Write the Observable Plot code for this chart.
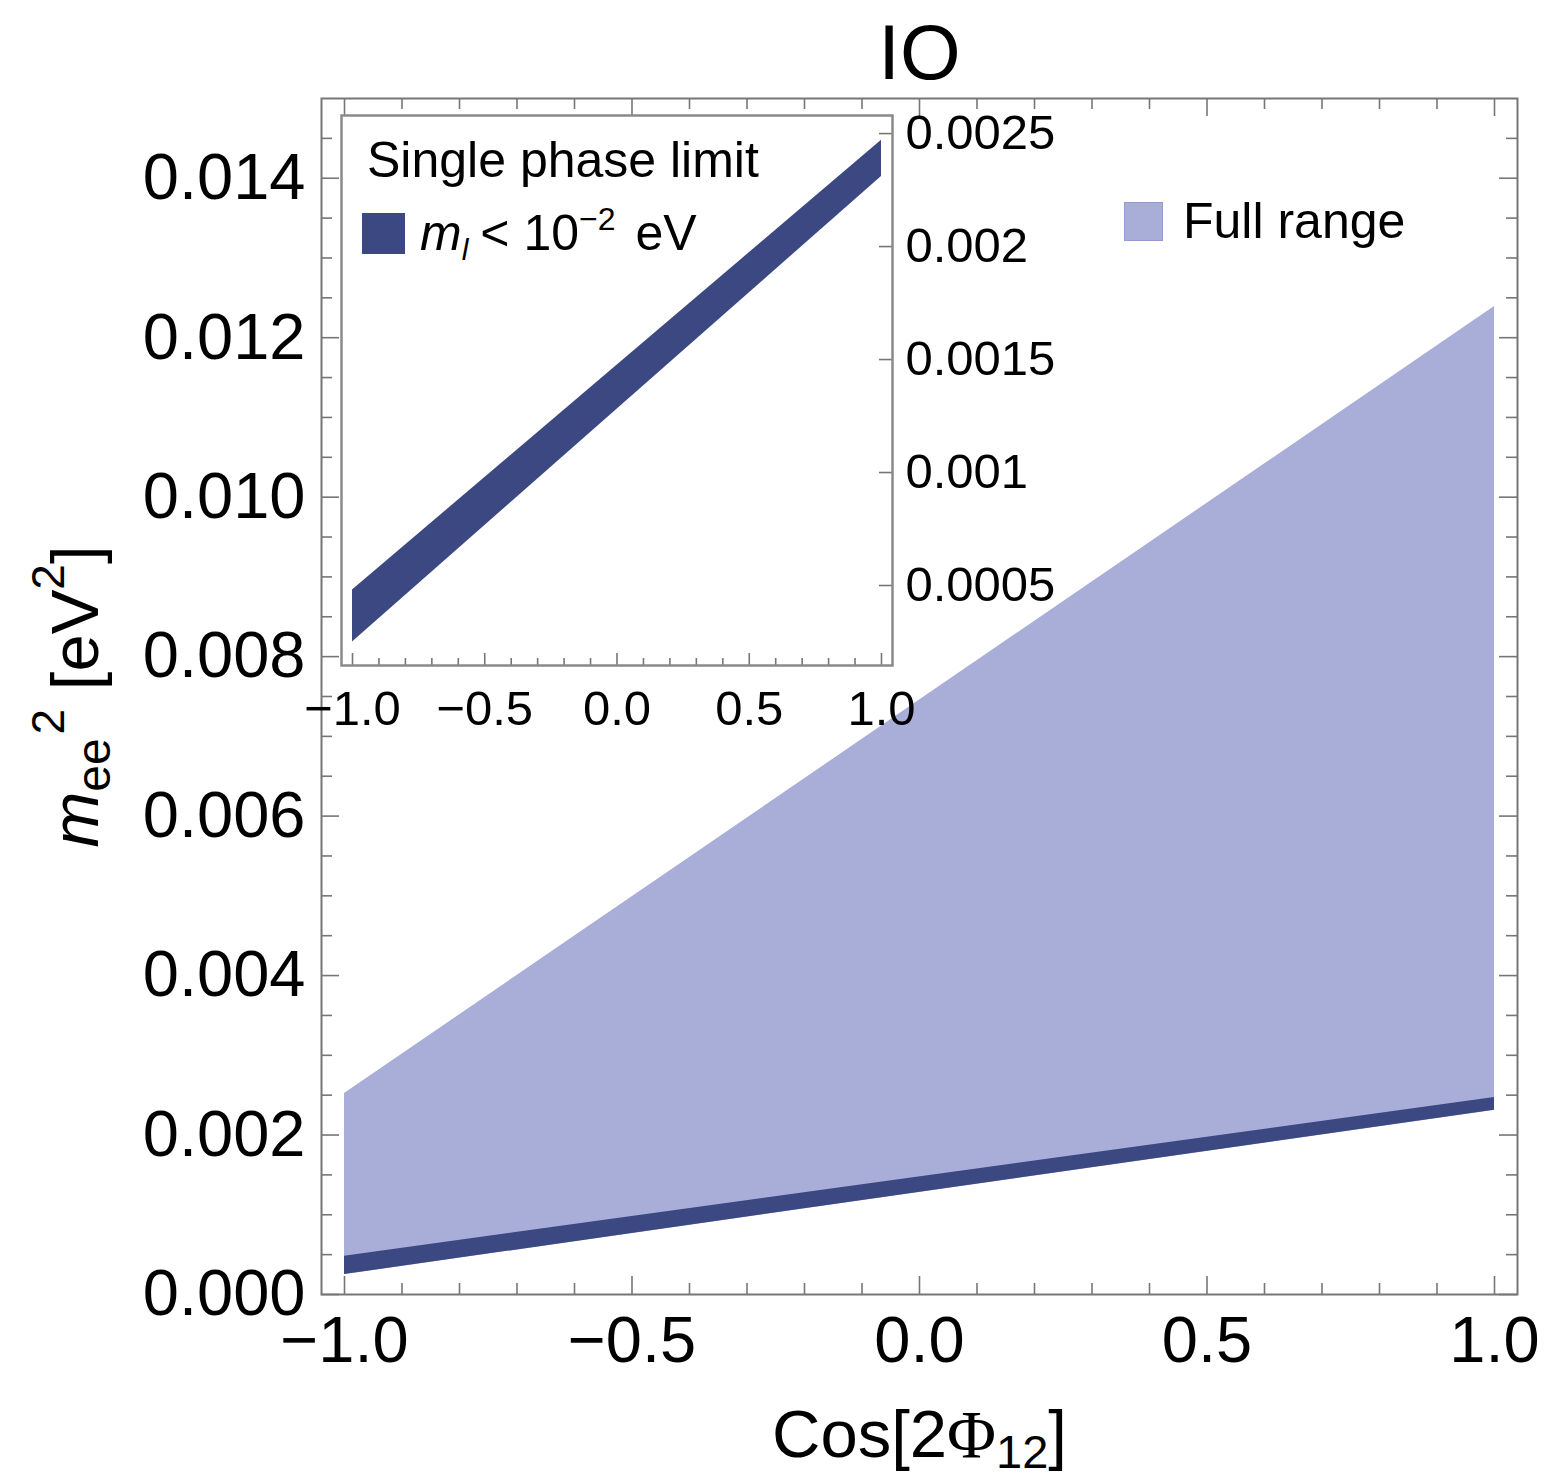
<!DOCTYPE html>
<html>
<head>
<meta charset="utf-8">
<script src="https://cdn.jsdelivr.net/npm/d3@7"></script>
<script src="https://cdn.jsdelivr.net/npm/@observablehq/plot@0.6"></script>
<style>
  body { margin: 0; background: #fff; font-family: "Liberation Sans", Arial, sans-serif; }
  #wrap { position: relative; width: 1547px; height: 1480px; }
  #wrap svg { position: absolute; left: 0; top: 0; }
  .leg { position: absolute; display: flex; align-items: center; white-space: nowrap; color: #000; font-family: "Liberation Sans", Arial, sans-serif; }
  .sw { display: inline-block; box-sizing: border-box; }
</style>
</head>
<body>
<div id="wrap"></div>
<script>
// ---- data ----
const cosPhi = [-1, 1];
const fullRangeLow = [0.00025, 0.00231];
const fullRangeHigh = [0.00252, 0.01239];
const singleLow = [0.00025, 0.00231];
const singleHigh = [0.00048, 0.00247];

const mainXTicks = [-1, -0.5, 0, 0.5, 1];
const mainYTicks = [0, 0.002, 0.004, 0.006, 0.008, 0.010, 0.012, 0.014];
const insetXTicks = [-1, -0.5, 0, 0.5, 1];
const insetYTicks = [0.0005, 0.001, 0.0015, 0.002, 0.0025];

const titleText = "IO";
const xLabelText = "Cos[2Φ12]";
const yLabelText = "mee2 [eV2]";
const fullLegend = "Full range";
const insetTitle = "Single phase limit";

const lightColor = "#a9aed9";
const darkColor = "#3c4882";
const frameColor = "#767676";
const FONT = "'Liberation Sans', Arial, sans-serif";

// minor ticks
const xMinor = d3.range(-10, 11).map(i => i / 10).filter(v => Math.abs(v * 2 - Math.round(v * 2)) > 1e-9);
const yMinor = d3.range(0, 30).map(i => i * 0.0005).filter(v => Math.abs(v / 0.002 - Math.round(v / 0.002)) > 1e-9);

const fullData = cosPhi.map((x, i) => ({x, lo: fullRangeLow[i], hi: fullRangeHigh[i]}));
const singleData = cosPhi.map((x, i) => ({x, lo: singleLow[i], hi: singleHigh[i]}));

// ---- main plot ----
const W = 1547, H = 1480;
const mL = 321, mR = 30, mT = 98, mB = 186;
const fW = W - mL - mR, fH = H - mT - mB;
const MAJ = 18, MIN = 11;

const main = Plot.plot({
  width: W, height: H,
  marginLeft: mL, marginRight: mR, marginTop: mT, marginBottom: mB,
  x: {domain: [-1.04, 1.04]},
  y: {domain: [0, 0.015]},
  style: {background: "transparent", fontFamily: FONT, fontSize: "65px", color: "#000", overflow: "visible"},
  marks: [
    Plot.areaY(fullData, {x: "x", y1: "lo", y2: "hi", fill: lightColor}),
    Plot.areaY(singleData, {x: "x", y1: "lo", y2: "hi", fill: darkColor}),
    // bottom ticks
    Plot.ruleX(mainXTicks, {x: d => d, insetTop: fH - MAJ, stroke: frameColor, strokeWidth: 1.6}),
    Plot.ruleX(xMinor, {x: d => d, insetTop: fH - MIN, stroke: frameColor, strokeWidth: 1.6}),
    // top ticks
    Plot.ruleX(mainXTicks, {x: d => d, insetBottom: fH - MAJ, stroke: frameColor, strokeWidth: 1.6}),
    Plot.ruleX(xMinor, {x: d => d, insetBottom: fH - MIN, stroke: frameColor, strokeWidth: 1.6}),
    // left ticks
    Plot.ruleY(mainYTicks, {y: d => d, insetRight: fW - MAJ, stroke: frameColor, strokeWidth: 1.6}),
    Plot.ruleY(yMinor, {y: d => d, insetRight: fW - MIN, stroke: frameColor, strokeWidth: 1.6}),
    // right ticks
    Plot.ruleY(mainYTicks, {y: d => d, insetLeft: fW - MAJ, stroke: frameColor, strokeWidth: 1.6}),
    Plot.ruleY(yMinor, {y: d => d, insetLeft: fW - MIN, stroke: frameColor, strokeWidth: 1.6}),
    Plot.frame({stroke: frameColor, strokeWidth: 2}),
    Plot.axisX(mainXTicks, {anchor: "bottom", tickSize: 0, tickPadding: 21, tickFormat: d3.format(".1f"), label: null, fontSize: 65}),
    Plot.axisY(mainYTicks, {anchor: "left", tickSize: 0, tickPadding: 16, tickFormat: d3.format(".3f"), label: null, fontSize: 65}),
    Plot.text([titleText], {frameAnchor: "top", dy: -20, lineAnchor: "bottom", fontSize: 78, text: d => d}),
    Plot.text([xLabelText], {frameAnchor: "bottom", dy: 162, lineAnchor: "bottom", textAnchor: "middle", fontSize: 67, text: d => d}),
    Plot.text([yLabelText], {frameAnchor: "left", dx: -224, rotate: -90, lineAnchor: "bottom", textAnchor: "middle", fontSize: 67, text: d => d})
  ]
});

function rich(svg, plain, html) {
  d3.select(svg).selectAll("text").filter(function() { return this.textContent === plain; }).html(html);
}
rich(main, xLabelText,
  `Cos[2<tspan font-family="'Liberation Serif', serif">Φ</tspan><tspan font-size="47" dy="11">12</tspan><tspan dy="-11">]</tspan>`);
rich(main, yLabelText,
  `<tspan font-style="italic">m</tspan><tspan font-size="48" dy="12">ee</tspan><tspan font-size="46" dx="4" dy="-46">2</tspan><tspan dy="34"> [eV</tspan><tspan font-size="46" dy="-34">2</tspan><tspan dy="34">]</tspan>`);

// ---- inset plot ----
const iL = 341, iR = W - 892, iT = 115, iB = H - 665;
const ifW = W - iL - iR, ifH = H - iT - iB;
const IMAJ = 12, IMIN = 7, IY = 13;

const inset = Plot.plot({
  width: W, height: H,
  marginLeft: iL, marginRight: iR, marginTop: iT, marginBottom: iB,
  x: {domain: [-1.0416, 1.0416]},
  y: {domain: [0.000146, 0.00258]},
  style: {background: "transparent", fontFamily: FONT, fontSize: "49px", color: "#000", overflow: "visible"},
  marks: [
    Plot.frame({fill: "white", stroke: null}),
    Plot.areaY(singleData, {x: "x", y1: "lo", y2: "hi", fill: darkColor}),
    Plot.ruleX(insetXTicks, {x: d => d, insetTop: ifH - IMAJ, stroke: frameColor, strokeWidth: 1.6}),
    Plot.ruleX(xMinor, {x: d => d, insetTop: ifH - IMIN, stroke: frameColor, strokeWidth: 1.6}),
    Plot.ruleY(insetYTicks, {y: d => d, insetLeft: ifW - IY, stroke: frameColor, strokeWidth: 1.6}),
    Plot.frame({stroke: "#8a8a8a", strokeWidth: 2.5}),
    Plot.axisX(insetXTicks, {anchor: "bottom", tickSize: 0, tickPadding: 25, tickFormat: d3.format(".1f"), label: null, fontSize: 49}),
    Plot.axisY(insetYTicks, {anchor: "right", tickSize: 0, tickPadding: 13, tickFormat: d => String(d), label: null, fontSize: 49})
  ]
});

const wrap = document.getElementById("wrap");
wrap.appendChild(main);
wrap.appendChild(inset);

// ---- legends ----
const leg1 = document.createElement("div");
leg1.className = "leg";
leg1.style.left = "1124px"; leg1.style.top = "196px"; leg1.style.height = "50px"; leg1.style.fontSize = "50px";
leg1.innerHTML = `<span class="sw" style="width:39px;height:39px;background:${lightColor};border:1.5px solid #959bcf;margin-right:20px"></span><span>${fullLegend}</span>`;
wrap.appendChild(leg1);

const leg2 = document.createElement("div");
leg2.className = "leg";
leg2.style.left = "367px"; leg2.style.top = "132px"; leg2.style.height = "56px"; leg2.style.fontSize = "50px";
leg2.textContent = insetTitle;
wrap.appendChild(leg2);

const leg3 = document.createElement("div");
leg3.className = "leg";
leg3.style.left = "362px"; leg3.style.top = "206px"; leg3.style.height = "54px"; leg3.style.fontSize = "50px";
leg3.innerHTML = `<span class="sw" style="width:43px;height:41px;background:${darkColor};margin-right:15px"></span><span><i>m</i><i style="font-size:30px;position:relative;top:10px">l</i><span style="margin-left:12px">&lt; 10</span><span style="font-size:32px;position:relative;top:-20px">−2</span><span style="margin-left:6px"> eV</span></span>`;
wrap.appendChild(leg3);
</script>
</body>
</html>
